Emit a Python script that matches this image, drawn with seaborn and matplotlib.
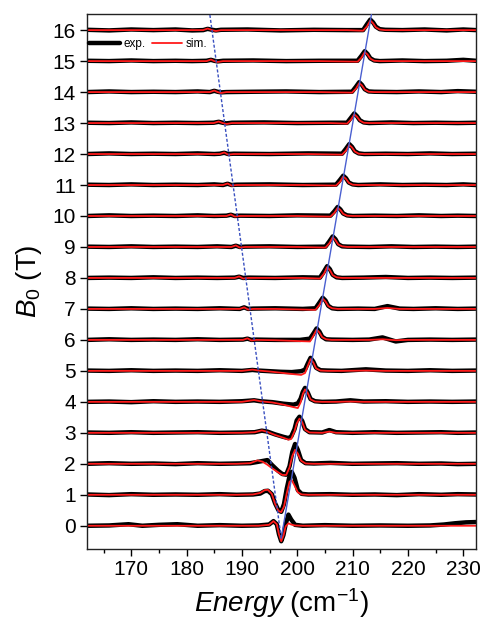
import numpy as np
import pandas as pd
import matplotlib
matplotlib.use("Agg")
import matplotlib.pyplot as plt
from matplotlib.lines import Line2D
import seaborn as sns

# ---------------- data (signal relative to each trace's baseline) ----------------
fields = list(range(17))

e_00 = [162, 166, 169.5, 172, 175, 178.3, 182, 186, 190, 193, 194.9, 195.7, 196.3, 196.7, 197.1, 197.5, 197.9, 198.4, 198.9, 199.6, 201, 205, 210, 215, 220, 224, 226.5, 228.5, 230.5, 232.3]
sim_00 = [0, 0, 0, 0, 0, 0, 0, 0, 0, 0, 0.03, 0.15, 0.05, -0.28, -0.5, -0.32, -0.02, 0.08, 0.04, 0.01, 0, 0, 0, 0, 0, 0, 0, 0, 0, 0]
exp_00 = [0.0, 0.01, 0.05, 0.0, 0.03, 0.05, 0.0, 0.02, 0.0, 0.01, 0.04, 0.15, 0.05, -0.28, -0.5, -0.3, 0.05, 0.36, 0.2, 0.03, 0.0, 0.02, 0.0, 0.01, 0.0, 0.01, 0.04, 0.08, 0.11, 0.12]

e_01 = [162, 166, 170, 174, 178, 182, 186, 189, 192, 193.3, 194.1, 194.7, 195.4, 196.0, 196.6, 197.1, 197.6, 198.1, 198.6, 199.0, 199.5, 200.1, 200.8, 202, 206, 210, 214, 218, 222, 226, 229, 232.3]
sim_01 = [0, 0, 0, 0, 0, 0, 0, 0, 0.01, 0.06, 0.15, 0.16, 0.03, -0.3, -0.52, -0.56, -0.38, 0.05, 0.42, 0.47, 0.3, 0.08, 0.01, 0, 0, 0, 0, 0, 0, 0, 0, 0]
exp_01 = [0.01, -0.01, 0.02, 0.0, 0.01, 0.0, 0.02, 0.0, 0.01, 0.04, 0.12, 0.13, 0.02, -0.28, -0.5, -0.55, -0.3, 0.2, 0.6, 0.74, 0.55, 0.15, 0.03, 0.01, 0.02, 0.0, 0.01, -0.01, 0.02, 0.0, 0.02, 0.01]

e_02 = [162, 166, 170, 174, 178, 182, 186, 189, 191.5, 192.8, 193.7, 194.6, 195.5, 196.5, 197.3, 198.0, 198.6, 199.1, 199.6, 200.1, 200.7, 201.5, 203, 206, 210, 214, 218, 222, 226, 229, 232.3]
sim_02 = [0, 0, 0, 0, 0, 0, 0, 0, 0.02, 0.11, 0.07, -0.03, -0.15, -0.27, -0.36, -0.36, -0.12, 0.25, 0.45, 0.33, 0.1, 0.01, 0, 0, 0, 0, 0, 0, 0, 0, 0]
exp_02 = [0.0, 0.02, 0.0, 0.01, -0.01, 0.02, 0.0, 0.01, 0.02, 0.06, 0.09, 0.12, -0.05, -0.22, -0.33, -0.35, -0.08, 0.38, 0.64, 0.45, 0.12, 0.02, 0.01, 0.03, 0.0, 0.01, 0.02, 0.0, 0.01, -0.01, 0.0]

e_03 = [162, 166, 170, 174, 178, 182, 186, 190, 192.3, 193.6, 194.6, 196.0, 197.5, 198.4, 198.9, 199.5, 199.9, 200.4, 200.9, 201.4, 202.2, 204.5, 205.8, 207, 210, 214, 218, 222, 226, 229, 232.3]
sim_03 = [0, 0, 0, 0, 0, 0, 0, 0, 0.02, 0.08, 0.03, -0.07, -0.16, -0.22, -0.2, 0.05, 0.3, 0.46, 0.34, 0.1, 0.01, 0, 0.04, 0, 0, 0, 0, 0, 0, 0, 0]
exp_03 = [0.01, 0.0, 0.02, 0.0, 0.01, 0.02, 0.0, 0.01, 0.02, 0.07, 0.04, -0.05, -0.13, -0.17, -0.12, 0.12, 0.4, 0.52, 0.38, 0.12, 0.02, 0.01, 0.09, 0.02, 0.0, 0.02, 0.0, 0.01, 0.02, 0.0, 0.01]

e_04 = [162, 166, 170, 174, 178, 182, 186, 190, 192.2, 193.3, 195.5, 197.5, 199.3, 200.1, 200.6, 201.0, 201.4, 201.9, 202.4, 203.2, 204.5, 207, 209.6, 212, 216, 220, 224, 228, 232.3]
sim_04 = [0, 0, 0, 0, 0, 0, 0, 0, 0.06, 0.02, -0.02, -0.09, -0.17, -0.2, -0.02, 0.25, 0.4, 0.28, 0.08, 0.01, 0, 0, 0.01, 0, 0, 0, 0, 0, 0]
exp_04 = [0.0, 0.01, -0.01, 0.02, 0.0, 0.01, 0.0, 0.02, 0.05, 0.02, -0.01, -0.06, -0.09, -0.05, 0.1, 0.32, 0.45, 0.3, 0.09, 0.02, 0.0, 0.01, 0.05, 0.01, 0.02, 0.0, 0.01, 0.0, 0.01]

e_05 = [162, 166, 170, 174, 178, 182, 186, 190, 191.9, 193, 195, 197, 199, 200.7, 201.4, 201.9, 202.4, 202.9, 203.4, 204.2, 205.5, 208, 212.4, 216, 220, 224, 228, 232.3]
sim_05 = [0, 0, 0, 0, 0, 0, 0, 0, 0.04, 0.01, -0.02, -0.06, -0.1, -0.13, -0.07, 0.16, 0.38, 0.27, 0.08, 0.01, 0, 0, 0.01, 0, 0, 0, 0, 0]
exp_05 = [0.01, 0.0, 0.02, 0.0, 0.01, 0.0, 0.02, 0.0, 0.03, 0.01, -0.01, -0.03, -0.04, -0.01, 0.04, 0.24, 0.42, 0.3, 0.1, 0.02, 0.01, 0.0, 0.05, 0.01, 0.0, 0.02, 0.0, 0.01]

e_06 = [162, 166, 170, 174, 178, 182, 186, 190.2, 191.0, 191.7, 192.6, 196, 200.5, 202.3, 202.9, 203.5, 204.0, 204.5, 205.2, 206.2, 210, 213, 215.4, 217.8, 220, 224, 228, 232.3]
sim_06 = [0, 0, 0, 0, 0, 0, 0, 0, 0.05, -0.02, 0, -0.01, -0.04, -0.05, 0.13, 0.33, 0.24, 0.09, 0.02, 0, 0, 0, 0.02, -0.01, 0, 0, 0, 0]
exp_06 = [0.0, 0.02, 0.0, 0.01, 0.0, 0.02, 0.0, 0.01, 0.04, 0.0, 0.01, 0.0, 0.0, 0.04, 0.2, 0.37, 0.27, 0.1, 0.02, 0.01, 0.0, 0.01, 0.08, -0.05, 0.0, 0.01, 0.0, 0.01]

e_07 = [162, 166, 170, 174, 178, 182, 186, 189.6, 190.4, 191.1, 192, 196, 201, 203.3, 204.0, 204.6, 205.1, 205.6, 206.3, 207.3, 211, 214, 216.3, 218.5, 221, 225, 229, 232.3]
sim_07 = [0, 0, 0, 0, 0, 0, 0, 0, 0.05, -0.02, 0, 0, -0.02, -0.03, 0.13, 0.33, 0.24, 0.09, 0.02, 0, 0, 0, 0.03, 0, 0, 0, 0, 0]
exp_07 = [0.01, 0.0, 0.02, 0.0, 0.01, 0.0, 0.02, 0.0, 0.05, 0.0, 0.01, 0.02, 0.0, 0.02, 0.2, 0.36, 0.27, 0.1, 0.02, 0.0, 0.01, 0.0, 0.09, 0.01, 0.0, 0.02, 0.0, 0.01]

e_08 = [162, 166, 170, 174, 178, 182, 185.5, 188.7, 189.5, 190.2, 191.2, 196, 201, 204.1, 204.8, 205.4, 205.9, 206.4, 207.1, 208.1, 212, 216, 220, 224, 228, 232.3]
sim_08 = [0, 0, 0, 0, 0, 0, 0, 0, 0.05, -0.02, 0, 0, 0, -0.02, 0.13, 0.35, 0.25, 0.09, 0.02, 0, 0, 0, 0, 0, 0, 0]
exp_08 = [0.0, 0.01, 0.0, 0.02, 0.0, 0.01, 0.0, 0.01, 0.04, 0.0, 0.01, 0.0, 0.02, 0.01, 0.2, 0.38, 0.28, 0.1, 0.02, 0.0, 0.01, 0.03, 0.0, 0.01, 0.0, 0.01]

e_09 = [162, 166, 170, 174, 178, 182, 185.5, 188.1, 188.9, 189.6, 190.6, 195, 200, 205.1, 205.8, 206.4, 206.9, 207.4, 208.1, 209.1, 213, 217, 221, 225, 229, 232.3]
sim_09 = [0, 0, 0, 0, 0, 0, 0, 0, 0.05, -0.02, 0, 0, 0, -0.02, 0.12, 0.31, 0.22, 0.08, 0.02, 0, 0, 0, 0, 0, 0, 0]
exp_09 = [0.01, 0.0, 0.02, 0.0, 0.01, 0.0, 0.02, 0.0, 0.04, 0.0, 0.01, 0.02, 0.0, 0.01, 0.18, 0.34, 0.25, 0.09, 0.02, 0.01, 0.0, 0.02, 0.0, 0.01, 0.0, 0.01]

e_10 = [162, 166, 170, 174, 178, 182, 185, 187.2, 188.0, 188.7, 189.7, 195, 200, 206.0, 206.7, 207.3, 207.8, 208.3, 209.0, 210.0, 214, 218, 222, 226, 229, 232.3]
sim_10 = [0, 0, 0, 0, 0, 0, 0, 0, 0.05, -0.02, 0, 0, 0, -0.02, 0.1, 0.26, 0.19, 0.07, 0.01, 0, 0, 0, 0, 0, 0, 0]
exp_10 = [0.0, 0.02, 0.0, 0.01, 0.0, 0.02, 0.0, 0.01, 0.04, 0.0, 0.01, 0.0, 0.02, 0.01, 0.15, 0.29, 0.21, 0.08, 0.02, 0.0, 0.01, 0.0, 0.02, 0.0, 0.01, 0.0]

e_11 = [162, 166, 170, 174, 178, 182, 185, 186.6, 187.4, 188.1, 189.1, 195, 201, 207.0, 207.7, 208.3, 208.8, 209.3, 210.0, 211.0, 215, 219, 223, 227, 230, 232.3]
sim_11 = [0, 0, 0, 0, 0, 0, 0, 0, 0.05, -0.02, 0, 0, 0, -0.02, 0.1, 0.27, 0.2, 0.07, 0.01, 0, 0, 0, 0, 0, 0, 0]
exp_11 = [0.01, 0.0, 0.02, 0.0, 0.01, 0.0, 0.02, 0.0, 0.04, 0.0, 0.01, 0.02, 0.0, 0.01, 0.16, 0.3, 0.22, 0.08, 0.02, 0.0, 0.02, 0.0, 0.01, 0.0, 0.02, 0.0]

e_12 = [162, 166, 170, 174, 178, 182, 185, 186.0, 186.8, 187.5, 188.5, 195, 202, 208.1, 208.8, 209.4, 209.9, 210.4, 211.1, 212.1, 216, 220, 224, 228, 232.3]
sim_12 = [0, 0, 0, 0, 0, 0, 0, 0, 0.05, -0.02, 0, 0, 0, -0.02, 0.11, 0.29, 0.21, 0.08, 0.01, 0, 0, 0, 0, 0, 0]
exp_12 = [0.0, 0.02, 0.0, 0.01, 0.0, 0.02, 0.0, 0.01, 0.04, 0.0, 0.01, 0.0, 0.02, 0.01, 0.17, 0.32, 0.23, 0.09, 0.02, 0.0, 0.01, 0.0, 0.02, 0.0, 0.01]

e_13 = [162, 166, 170, 174, 178, 182, 184.9, 185.8, 186.5, 187.2, 188.2, 194, 200, 206, 209.0, 209.7, 210.3, 210.8, 211.3, 212.0, 213.0, 217, 221, 225, 229, 232.3]
sim_13 = [0, 0, 0, 0, 0, 0, 0, 0.05, 0.0, -0.03, 0, 0, 0, 0, -0.02, 0.11, 0.28, 0.2, 0.08, 0.01, 0, 0, 0, 0, 0, 0]
exp_13 = [0.01, 0.0, 0.02, 0.0, 0.01, 0.0, 0.01, 0.04, 0.01, -0.01, 0.01, 0.02, 0.0, 0.01, 0.01, 0.17, 0.31, 0.22, 0.09, 0.02, 0.0, 0.02, 0.0, 0.01, 0.0, 0.01]

e_14 = [162, 166, 170, 174, 178, 182, 184.2, 185.0, 185.6, 186.2, 187.2, 192, 198, 204, 209.9, 210.6, 211.2, 211.7, 212.2, 212.9, 213.9, 218, 222, 226, 229, 232.3]
sim_14 = [0, 0, 0, 0, 0, 0, 0, 0.05, 0.0, -0.03, 0, 0, 0, 0, -0.02, 0.11, 0.29, 0.21, 0.08, 0.01, 0, 0, 0, 0, 0, 0]
exp_14 = [0.0, 0.02, 0.0, 0.01, 0.0, 0.02, 0.0, 0.04, 0.01, -0.01, 0.0, 0.01, 0.02, 0.0, 0.01, 0.17, 0.32, 0.23, 0.09, 0.02, 0.01, 0.0, 0.02, 0.0, 0.03, 0.01]

e_15 = [162, 166, 170, 174, 178, 181, 183.6, 184.4, 185.0, 185.6, 186.6, 192, 198, 204, 210.9, 211.6, 212.2, 212.7, 213.2, 213.9, 214.9, 219, 223, 227, 230, 232.3]
sim_15 = [0, 0, 0, 0, 0, 0, 0, 0.05, 0.0, -0.03, 0, 0, 0, 0, -0.02, 0.11, 0.29, 0.21, 0.08, 0.01, 0, 0, 0, 0, 0, 0]
exp_15 = [0.01, 0.0, 0.02, 0.0, 0.01, 0.0, 0.01, 0.04, 0.01, -0.01, 0.01, 0.02, 0.0, 0.01, 0.01, 0.17, 0.32, 0.23, 0.09, 0.02, 0.0, 0.02, 0.0, 0.01, 0.04, 0.01]

e_16 = [162, 166, 170, 174, 178, 181, 183.0, 183.8, 184.6, 185.3, 186.2, 191, 197, 203, 209, 211.9, 212.6, 213.2, 213.7, 214.2, 214.9, 215.9, 219, 223, 227, 230, 232.3]
sim_16 = [0, 0, 0, 0, 0, 0, 0, 0.05, 0.0, -0.03, 0, 0, 0, 0, 0, -0.02, 0.12, 0.31, 0.22, 0.09, 0.02, 0, 0, 0, 0, 0, 0]
exp_16 = [0.01, -0.01, 0.02, 0.0, 0.02, -0.01, 0.0, 0.04, 0.01, -0.01, 0.01, 0.02, -0.01, 0.01, 0.0, 0.0, 0.19, 0.34, 0.25, 0.11, 0.03, 0.01, 0.0, 0.02, -0.01, 0.02, 0.0]

# guide lines (energy, field)
solid_energy = [197.1, 213.4]
solid_field = [-0.4, 16.5]
dotted_energy = [197.1, 184.2]
dotted_field = [-0.4, 16.5]

y_ticks = list(range(17))
x_ticks = [170, 180, 190, 200, 210, 220, 230]

traces = {
    0: (e_00, sim_00, exp_00), 1: (e_01, sim_01, exp_01), 2: (e_02, sim_02, exp_02),
    3: (e_03, sim_03, exp_03), 4: (e_04, sim_04, exp_04), 5: (e_05, sim_05, exp_05),
    6: (e_06, sim_06, exp_06), 7: (e_07, sim_07, exp_07), 8: (e_08, sim_08, exp_08),
    9: (e_09, sim_09, exp_09), 10: (e_10, sim_10, exp_10), 11: (e_11, sim_11, exp_11),
    12: (e_12, sim_12, exp_12), 13: (e_13, sim_13, exp_13), 14: (e_14, sim_14, exp_14),
    15: (e_15, sim_15, exp_15), 16: (e_16, sim_16, exp_16),
}

rows = []
for b in fields:
    e, s, x = traces[b]
    assert len(e) == len(s) == len(x), b
    for ei, xi in zip(e, x):
        rows.append({"energy": ei, "y": b + xi, "kind": "exp.", "field": b})
    for ei, si in zip(e, s):
        rows.append({"energy": ei, "y": b + si, "kind": "sim.", "field": b})
df = pd.DataFrame(rows)

# ---------------- style ----------------
sns.set_theme(style="ticks")
plt.rcParams["font.family"] = ["Liberation Sans", "DejaVu Sans"]
plt.rcParams["mathtext.fontset"] = "custom"
plt.rcParams["mathtext.rm"] = "Liberation Sans"
plt.rcParams["mathtext.it"] = "Liberation Sans:italic"
plt.rcParams["text.color"] = "black"
plt.rcParams["axes.labelcolor"] = "black"

fig = plt.figure(figsize=(4.86, 6.26), dpi=100)
ax = fig.add_axes([87 / 486, 1 - 549 / 626, (476 - 87) / 486, (549 - 14) / 626])

sns.lineplot(data=df, x="energy", y="y", hue="kind", size="kind",
             hue_order=["exp.", "sim."],
             palette={"exp.": "black", "sim.": "#ff1a1a"},
             sizes={"exp.": 3.2, "sim.": 1.3},
             units="field", estimator=None, sort=False, legend=False, ax=ax)

guide = pd.DataFrame({"energy": solid_energy + dotted_energy,
                      "field": solid_field + dotted_field,
                      "line": ["solid"] * 2 + ["dotted"] * 2})
sns.lineplot(data=guide[guide.line == "solid"], x="energy", y="field", sort=False,
             color="#4a5fd0", lw=1.0, ax=ax, zorder=5)
sns.lineplot(data=guide[guide.line == "dotted"], x="energy", y="field", sort=False,
             color="#3a50c0", lw=1.0, ls=(0, (2.2, 1.4)), ax=ax, zorder=5)

ax.set_xlim(162, 232.3)
ax.set_ylim(-0.75, 16.52)
ax.set_xticks(x_ticks)
ax.set_xticks([165, 175, 185, 195, 205, 215, 225], minor=True)
ax.set_yticks(y_ticks)
ax.tick_params(axis="both", which="major", direction="out", length=5, width=1,
               labelsize=15, colors="black", pad=3)
ax.tick_params(axis="x", which="minor", direction="out", length=3, width=1, colors="black")
for sp in ax.spines.values():
    sp.set_visible(True)
    sp.set_linewidth(1.0)
    sp.set_color("#222222")

ax.set_xlabel(r"$\mathit{Energy}$ (cm$^{-1}$)", fontsize=20, labelpad=5, color="black")
ax.set_ylabel(r"$\mathit{B_0}$ (T)", fontsize=20, labelpad=6, color="black")

handles = [Line2D([], [], color="black", lw=3.2),
           Line2D([], [], color="#ff1a1a", lw=1.3)]
ax.legend(handles, ["exp.", "sim."], loc="center left", bbox_to_anchor=(0.0, 0.944),
          ncol=2, frameon=False, fontsize=8.5, handlelength=2.6, handletextpad=0.3,
          columnspacing=0.5, borderpad=0.2, borderaxespad=0.0, labelcolor="black")

fig.savefig("out.png", dpi=100)
